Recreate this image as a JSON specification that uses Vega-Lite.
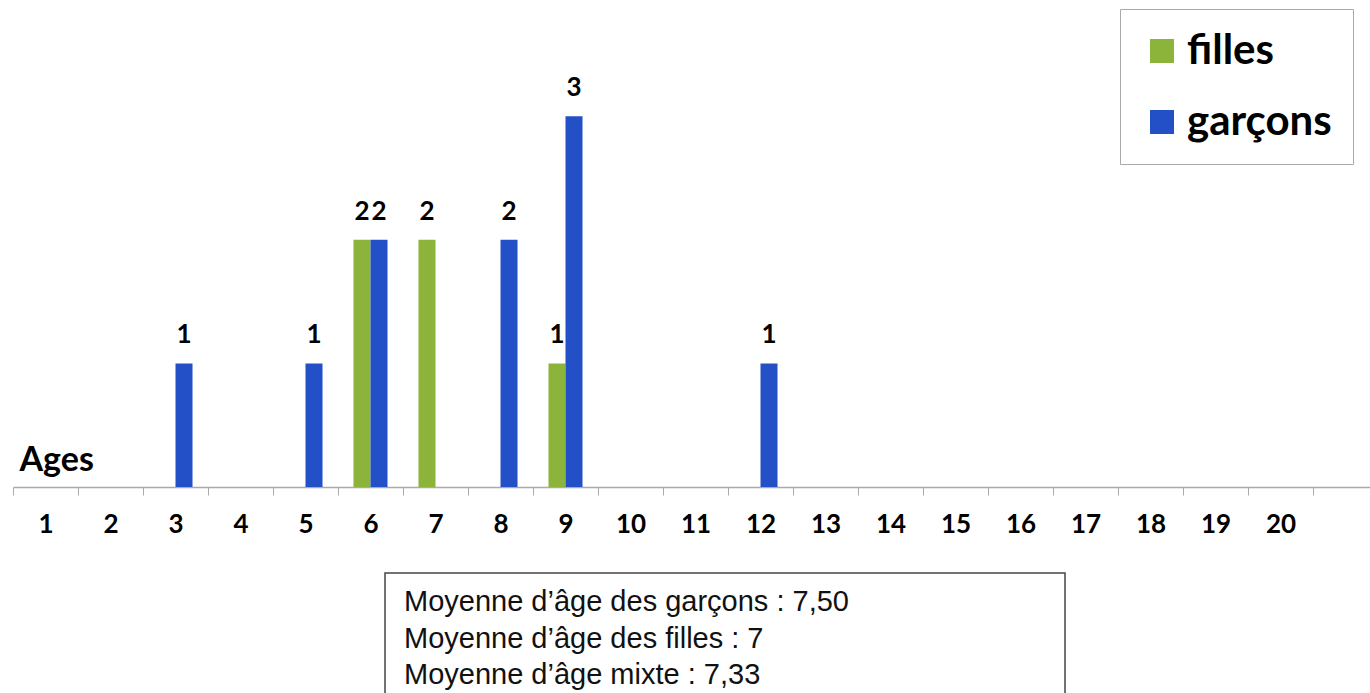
{
  "$schema": "https://vega.github.io/schema/vega-lite/v6.json",
  "padding": {"left": 12, "top": 5, "right": 0, "bottom": 0},
  "background": "white",
  "config": {"view": {"stroke": null}},
  "datasets": {
    "effectifs": [
      {"age": 3, "sexe": "garçons", "n": 1},
      {"age": 5, "sexe": "garçons", "n": 1},
      {"age": 6, "sexe": "filles", "n": 2},
      {"age": 6, "sexe": "garçons", "n": 2},
      {"age": 7, "sexe": "filles", "n": 2},
      {"age": 8, "sexe": "garçons", "n": 2},
      {"age": 9, "sexe": "filles", "n": 1},
      {"age": 9, "sexe": "garçons", "n": 3},
      {"age": 12, "sexe": "garçons", "n": 1}
    ],
    "moyennes": [
      {"ligne": 1, "texte": "Moyenne d’âge des garçons : 7,50"},
      {"ligne": 2, "texte": "Moyenne d’âge des filles : 7"},
      {"ligne": 3, "texte": "Moyenne d’âge mixte : 7,33"}
    ]
  },
  "vconcat": [
    {
      "width": 1365,
      "height": 482,
      "data": {"name": "effectifs"},
      "encoding": {
        "x": {
          "field": "age",
          "type": "ordinal",
          "scale": {"domain": [1,2,3,4,5,6,7,8,9,10,11,12,13,14,15,16,17,18,19,20,21], "paddingInner": 0, "paddingOuter": 0},
          "axis": {
            "title": "Ages",
            "titleX": 6,
            "titleY": -17,
            "titleAlign": "left",
            "titleBaseline": "alphabetic",
            "titleFont": "Lato",
            "titleFontSize": 34,
            "titleFontWeight": "bold",
            "titleColor": "black",
            "labelAngle": 0,
            "labelFont": "Lato",
            "labelFontSize": 26,
            "labelFontWeight": "bold",
            "labelColor": "black",
            "labelPadding": 16,
            "labelOverlap": false,
            "labelExpr": "datum.value == 21 ? '' : datum.label",
            "tickBand": "extent",
            "tickSize": 8,
            "tickColor": "#aaaaaa",
            "domainColor": "#aaaaaa",
            "domainWidth": 1.5
          }
        },
        "xOffset": {"field": "sexe", "scale": {"domain": ["filles", "garçons"], "paddingInner": 0, "paddingOuter": 0.91}},
        "y": {"field": "n", "type": "quantitative", "scale": {"domain": [0, 3.9]}, "axis": null}
      },
      "layer": [
        {
          "mark": {"type": "bar"},
          "encoding": {
            "color": {
              "field": "sexe",
              "type": "nominal",
              "scale": {"domain": ["filles", "garçons"], "range": ["#8db43a", "#2450c7"]},
              "legend": {
                "title": null,
                "orient": "none",
                "legendX": 1107,
                "legendY": 4,
                "symbolType": "square",
                "symbolSize": 576,
                "symbolStrokeWidth": 0,
                "labelFont": "Lato",
                "labelFontSize": 42,
                "labelFontWeight": "bold",
                "labelColor": "black",
                "labelLimit": 400,
                "rowPadding": 29,
                "labelOffset": 4,
                "padding": 21,
                "strokeColor": "#aaaaaa",
                "fillColor": "white"
              }
            }
          }
        },
        {
          "mark": {"type": "text", "baseline": "alphabetic", "dy": -20, "font": "Lato", "fontWeight": "bold", "fontSize": 26, "color": "black"},
          "encoding": {"text": {"field": "n", "type": "quantitative"}}
        }
      ]
    },
    {
      "spacing": 20,
      "hconcat": [
        {
          "width": 351,
          "height": 10,
          "data": {"values": []},
          "mark": "text",
          "encoding": {}
        },
        {
          "width": 680,
          "height": 131,
          "view": {"stroke": "#444444", "strokeWidth": 1.5},
          "data": {"name": "moyennes"},
          "mark": {"type": "text", "align": "left", "baseline": "middle", "dx": 19, "font": "Liberation Sans", "fontSize": 29, "color": "#111111"},
          "encoding": {
            "x": {"datum": 0, "type": "quantitative", "scale": {"domain": [0, 1]}, "axis": null},
            "y": {"field": "ligne", "type": "ordinal", "scale": {"type": "point", "padding": 0.8}, "axis": null},
            "text": {"field": "texte"}
          }
        }
      ]
    }
  ],
  "spacing": 35
}
